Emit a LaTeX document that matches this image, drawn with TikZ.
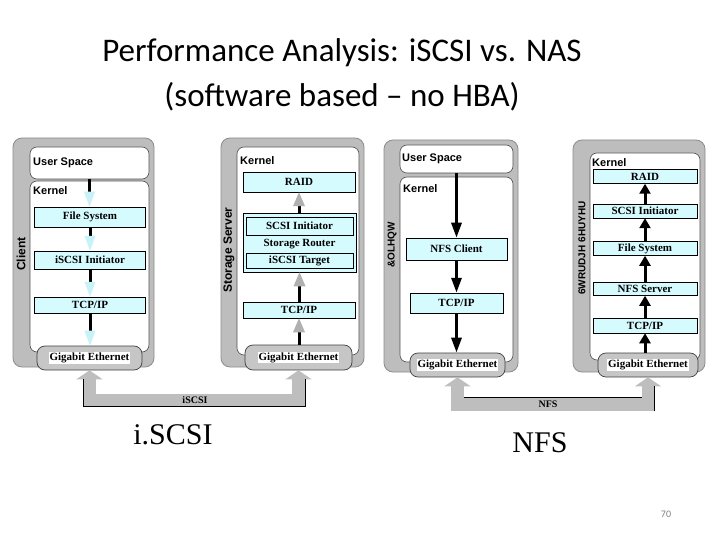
\documentclass[tikz,border=0pt]{standalone}
\usepackage{fontspec}
\setmainfont{Liberation Serif}
\setsansfont{Liberation Sans}
\newfontfamily\slidefont{Carlito}
\usetikzlibrary{arrows.meta,calc}
\definecolor{panelgray}{HTML}{BDBDBD}
\definecolor{panelline}{HTML}{8C8C8C}
\definecolor{boxline}{HTML}{505050}
\definecolor{laycyan}{HTML}{D6FBFF}
\definecolor{tipcyan}{HTML}{C6F2F8}
\definecolor{tipgray}{HTML}{B0B0B0}
\definecolor{gbegray}{HTML}{C6C6C6}
\definecolor{bandgray}{HTML}{BEBEBE}
\newcommand{\wb}[1]{{\setlength{\fboxsep}{0.8pt}\colorbox{white}{#1}}}
\tikzset{panel/.style={draw=panelline, fill=panelgray, line width=0.8pt, rounded corners=9pt},
  space/.style={draw=boxline, fill=white, line width=0.6pt, rounded corners=7pt},
  lay/.style={draw=black, fill=laycyan, line width=0.5pt, inner sep=0pt, font=\fontsize{11}{12}\selectfont\rmfamily\bfseries},
  gbe/.style={draw=black!75, fill=gbegray, line width=0.7pt, rounded corners=8pt, inner sep=0pt, font=\fontsize{11}{12}\selectfont\rmfamily\bfseries},
  tag/.style={inner sep=0pt, font=\fontsize{11}{12}\selectfont\sffamily\bfseries},
  side/.style={inner sep=0pt, rotate=90, font=\fontsize{12}{12}\selectfont\sffamily\bfseries},
  dnpin/.style={line width=3pt, -{Triangle[length=15pt,width=11pt,line width=0pt,color=tipcyan,fill=tipcyan]}},
  uppin/.style={line width=3pt, -{Triangle[length=14pt,width=12pt,line width=0pt,color=tipgray,fill=tipgray]}},
  nfspin/.style={line width=3pt, -{Triangle[length=15pt,width=10pt]}},
  srvpin/.style={line width=3pt, -{Triangle[length=10pt,width=11pt]}},
  band/.style={line width=13pt, draw=bandgray, {Triangle[length=9pt,width=26pt,color=bandgray]}-{Triangle[length=9pt,width=26pt,color=bandgray]}},
  rim/.style={line width=0.8pt, draw=black},
  wire/.style={inner sep=0pt, font=\fontsize{10}{10}\selectfont\rmfamily\bfseries}}

\begin{document}
\begin{tikzpicture}[x=1pt, y=-1pt, font=\sffamily]
  \useasboundingbox (0,0) rectangle (720,540);
  \node[align=center, font=\slidefont\fontsize{33}{45}\selectfont] (title) at (342,75) {Performance Analysis: iSCSI vs. NAS\\(software based – no HBA)};
  \node[font=\slidefont\fontsize{10}{10}\selectfont, text=gray] (pg) at (666,514) {70};
  \node[font=\rmfamily\fontsize{30}{30}\selectfont] (capA) at (173,435) {i.SCSI};
  \node[font=\rmfamily\fontsize{30}{30}\selectfont] (capB) at (540,443) {NFS};

  \node[panel, minimum width=141pt, minimum height=229pt] (pA) at (83.5,252.5) {};
  \node[space, minimum width=119pt, minimum height=32pt] (usA) at (89.5,163) {};
  \node[space, minimum width=119pt, minimum height=171pt] (kA) at (89.5,266.5) {};
  \node[tag, anchor=west] (usAt) at (33,163) {User Space};
  \node[tag, anchor=west] (kAt) at (33,191) {Kernel};
  \node[lay, minimum width=111pt, minimum height=20pt] (fsA) at (90,217) {File System};
  \node[lay, minimum width=111pt, minimum height=18pt] (iiA) at (90,260) {iSCSI Initiator};
  \node[lay, minimum width=111pt, minimum height=16pt] (tcpA) at (90,305) {TCP/IP};
  \node[gbe, minimum width=105pt, minimum height=24pt] (geA) at (89.5,358) {\wb{Gigabit Ethernet}};
  \node[side] (cA) at (21,254) {Client};
  \foreach \a/\b in {usA/fsA,fsA/iiA,iiA/tcpA,tcpA/geA}{
    \draw[dnpin] (\a.south) -- (\a.south |- \b.north);}

  \node[panel, minimum width=143pt, minimum height=229pt] (pB) at (292.5,252.5) {};
  \node[space, minimum width=122pt, minimum height=208pt] (kB) at (298,251) {};
  \node[tag, anchor=west] (kBt) at (240,161) {Kernel};
  \node[lay, minimum width=112pt, minimum height=20pt] (raidB) at (299,182) {RAID};
  \node[lay, minimum width=113pt, minimum height=59pt] (srB) at (299.5,242.5) {};
  \node[lay, minimum width=107pt, minimum height=18pt] (siB) at (299.5,226) {SCSI Initiator};
  \node[lay, draw=none, fill=none] (srBt) at (299.5,244) {Storage Router};
  \node[lay, minimum width=107pt, minimum height=15pt] (itB) at (299.5,260.5) {iSCSI Target};
  \node[lay, minimum width=112pt, minimum height=16pt] (tcpB) at (299,310) {TCP/IP};
  \node[gbe, minimum width=107pt, minimum height=25pt] (geB) at (298.5,357.5) {\wb{Gigabit Ethernet}};
  \node[side] (cB) at (229,250) {Storage Server};
  \foreach \a/\b in {geB/tcpB,tcpB/srB,srB/raidB}{
    \draw[uppin] (\a.north -| \b.south) -- (\b.south);}

  \node[panel, minimum width=134pt, minimum height=232pt] (pC) at (451,256) {};
  \node[space, minimum width=113pt, minimum height=28pt] (usC) at (456.5,159) {};
  \node[space, minimum width=113pt, minimum height=185pt] (kC) at (456.5,269.5) {};
  \node[tag, anchor=west] (usCt) at (402,159) {User Space};
  \node[tag, anchor=west] (kCt) at (403,189) {Kernel};
  \node[lay, minimum width=101pt, minimum height=22pt] (ncC) at (456.5,249) {NFS Client};
  \node[lay, minimum width=93pt, minimum height=20pt] (tcpC) at (456.5,303) {TCP/IP};
  \node[gbe, minimum width=95pt, minimum height=24pt] (geC) at (457.5,365) {\wb{Gigabit Ethernet}};
  \node[side, font=\fontsize{10}{10}\selectfont\sffamily\bfseries] (cC) at (392,245) {\&OLHQW};
  \foreach \a/\b in {usC/ncC,ncC/tcpC,tcpC/geC}{
    \draw[nfspin] (\a.south) -- (\a.south |- \b.north);}

  \node[panel, minimum width=132pt, minimum height=232pt] (pD) at (639,256) {};
  \node[space, minimum width=110pt, minimum height=207pt] (kD) at (645,256.5) {};
  \node[tag, anchor=west] (kDt) at (592,163) {Kernel};
  \begin{scope}[every node/.append style={font=\fontsize{10}{11}\selectfont\rmfamily\bfseries}]
    \node[lay, minimum width=104pt, minimum height=14pt] (raidD) at (645,176.5) {RAID};
    \node[lay, minimum width=104pt, minimum height=14pt] (siD) at (645,211) {SCSI Initiator};
    \node[lay, minimum width=104pt, minimum height=14pt] (fsD) at (645,248.5) {File System};
    \node[lay, minimum width=104pt, minimum height=13pt] (nsD) at (645,289) {NFS Server};
    \node[lay, minimum width=104pt, minimum height=15pt] (tcpD) at (645,325.5) {TCP/IP};
    \node[gbe, minimum width=100pt, minimum height=24pt] (geD) at (648,365) {\wb{Gigabit Ethernet}};
  \end{scope}
  \node[side, font=\fontsize{10}{10}\selectfont\sffamily\bfseries] (cD) at (582,248) {6WRUDJH 6HUYHU};
  \foreach \a/\b in {geD/tcpD,tcpD/nsD,nsD/fsD,fsD/siD,siD/raidD}{
    \draw[srvpin] (\a.north -| \b.south) -- (\b.south);}

  \coordinate (iscsi) at (195,400);
  \draw[band] (geA.south) |- (iscsi) -| (geB.south);
  \draw[rim] ($(geA.south)+(-6.5,9)$) |- ($(iscsi)+(0,6.5)$) -| ($(geB.south)+(6.5,9)$);
  \node[wire] (iscsiT) at (iscsi) {iSCSI};

  \coordinate (nfs) at (548,404);
  \draw[band] (geC.south) |- (nfs) -| (geD.south);
  \draw[rim] ($(geC.south |- nfs)+(6.5,-6.5)$) -- ($(geD.south |- nfs)+(-6.5,-6.5)$);
  \draw[rim] ($(geD.south)+(6.5,9)$) -- ($(geD.south |- nfs)+(6.5,6.5)$);
  \node[wire] (nfsT) at (nfs) {NFS};
\end{tikzpicture}
\end{document}
